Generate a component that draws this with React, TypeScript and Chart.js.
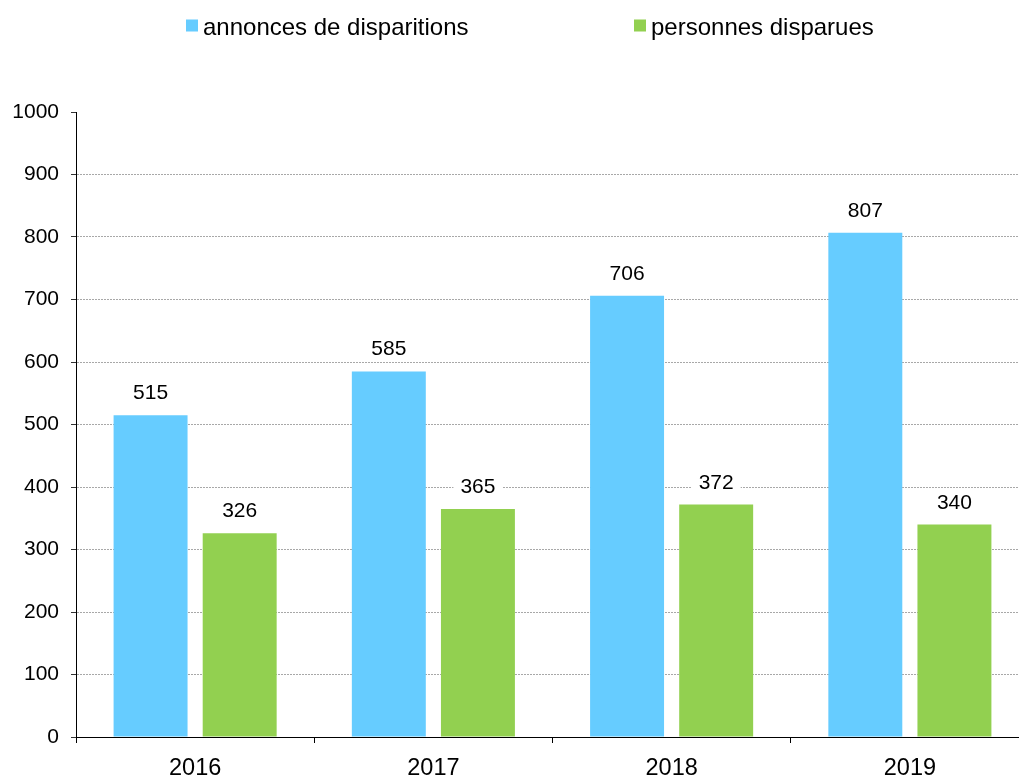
import React, { useEffect, useRef } from "react";
import { Chart, registerables } from "chart.js";

Chart.register(...registerables);

const categories = ["2016", "2017", "2018", "2019"];
const annonces = [515, 585, 706, 807];
const personnes = [326, 365, 372, 340];
const seriesNames = ["annonces de disparitions", "personnes disparues"];
const yMin = 0;
const yMax = 1000;
const yStep = 100;

const BLUE = "#66CCFF";
const GREEN = "#92D050";
const FONT = '"Liberation Sans", Arial, sans-serif';

const legendPlugin = {
  id: "customLegend",
  afterDraw(chart: any) {
    const ctx = chart.ctx;
    const items = [
      { x: 186, color: BLUE, text: seriesNames[0] },
      { x: 634, color: GREEN, text: seriesNames[1] },
    ];
    ctx.save();
    ctx.font = `24px ${FONT}`;
    ctx.textBaseline = "alphabetic";
    ctx.textAlign = "left";
    for (const it of items) {
      ctx.fillStyle = it.color;
      ctx.fillRect(it.x, 19.5, 12, 12);
      ctx.fillStyle = "#000";
      ctx.fillText(it.text, it.x + 17, 35);
    }
    ctx.restore();
  },
};

const dataLabelPlugin = {
  id: "dataLabels",
  afterDatasetsDraw(chart: any) {
    const ctx = chart.ctx;
    ctx.save();
    ctx.font = `21px ${FONT}`;
    ctx.textAlign = "center";
    ctx.textBaseline = "alphabetic";
    chart.data.datasets.forEach((ds: any, di: number) => {
      const meta = chart.getDatasetMeta(di);
      meta.data.forEach((bar: any, i: number) => {
        const txt = String(ds.data[i]);
        const w = ctx.measureText(txt).width;
        const baseline = bar.y - 16;
        const cy = baseline - 7.5;
        ctx.fillStyle = "#fff";
        ctx.fillRect(bar.x - w / 2 - 7, cy - 13, w + 14, 26);
        ctx.fillStyle = "#000";
        ctx.fillText(txt, bar.x, baseline);
      });
    });
    ctx.restore();
  },
};

export default function App() {
  const ref = useRef<HTMLCanvasElement | null>(null);

  useEffect(() => {
    if (!ref.current) return;
    const chart = new Chart(ref.current, {
      type: "bar",
      data: {
        labels: categories,
        datasets: [
          {
            label: seriesNames[0],
            data: annonces,
            backgroundColor: BLUE,
            borderWidth: 0,
            categoryPercentage: 0.748,
            barPercentage: 0.83,
          },
          {
            label: seriesNames[1],
            data: personnes,
            backgroundColor: GREEN,
            borderWidth: 0,
            categoryPercentage: 0.748,
            barPercentage: 0.83,
          },
        ],
      },
      options: {
        responsive: false,
        animation: false,
        devicePixelRatio: 1,
        layout: { padding: { top: 112, left: 0, right: 11, bottom: 0 } },
        plugins: {
          legend: { display: false },
          tooltip: { enabled: false },
        },
        scales: {
          x: {
            grid: {
              display: true,
              drawOnChartArea: false,
              drawTicks: true,
              tickLength: 6,
              color: "#000",
              tickColor: "#000",
              offset: true,
            },
            border: { display: true, color: "#000", width: 1 },
            ticks: {
              font: { family: FONT, size: 23.5 },
              color: "#000",
              padding: 11,
            },
            afterFit: (s: any) => {
              s.height = 41;
            },
          },
          y: {
            min: yMin,
            max: yMax,
            ticks: {
              stepSize: yStep,
              font: { family: FONT, size: 21 },
              color: "#000",
              padding: 12,
              callback: (v: any) => String(v),
            },
            grid: {
              color: (c: any) =>
                c.tick && (c.tick.value === yMin || c.tick.value === yMax)
                  ? "rgba(0,0,0,0)"
                  : "#a8a8a8",
              tickColor: "#333",
              tickLength: 5,
              drawTicks: true,
            },
            border: { display: true, color: "#000", width: 1, dash: [2, 1] },
            afterFit: (s: any) => {
              s.width = 76;
            },
          },
        },
      },
      plugins: [legendPlugin, dataLabelPlugin],
    } as any);
    return () => chart.destroy();
  }, []);

  return (
    <div
      style={{
        position: "fixed",
        left: 0,
        top: 0,
        width: 1019,
        height: 778,
        overflow: "hidden",
        background: "#fff",
      }}
    >
      <canvas ref={ref} width={1040} height={778} style={{ display: "block" }} />
    </div>
  );
}
